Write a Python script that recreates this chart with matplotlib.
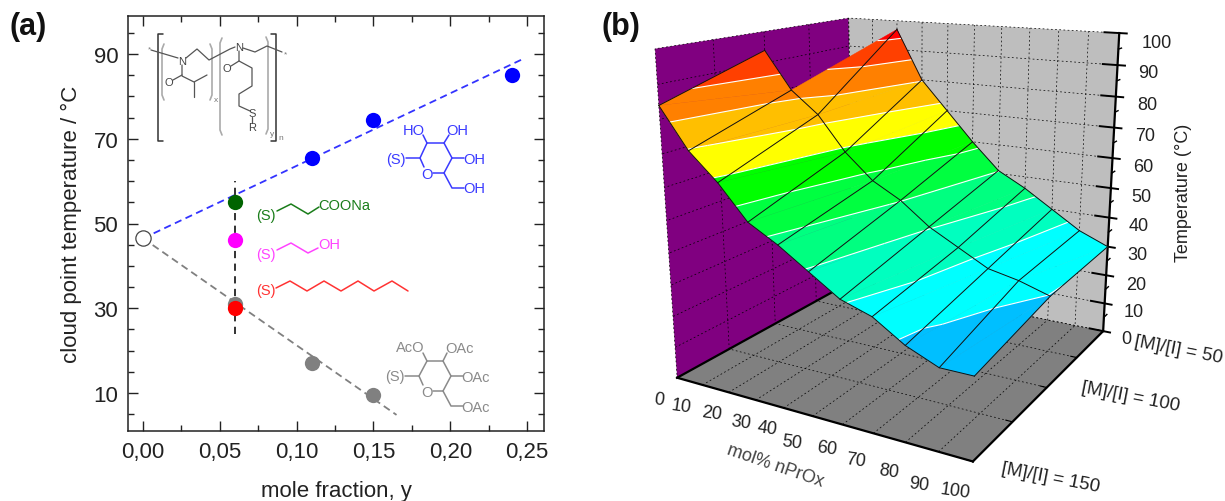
import numpy as np
import matplotlib
matplotlib.use('Agg')
import matplotlib.pyplot as plt
from mpl_toolkits.mplot3d.art3d import Poly3DCollection, Line3DCollection

plt.rcParams['font.family'] = ['Liberation Sans', 'DejaVu Sans']
plt.rcParams['grid.color'] = 'black'
plt.rcParams['grid.linewidth'] = 0.5
plt.rcParams['grid.linestyle'] = (0, (2.5, 3.5))

W, H = 1225, 502

# panel (a) data
x_open, y_open = [0.0], [46.5]
x_blue = [0.11, 0.15, 0.24]
y_blue = [65.5, 74.5, 85.0]
x_grey = [0.06, 0.11, 0.15]
y_grey = [31.0, 17.0, 9.5]
x_single = 0.06
y_green, y_magenta, y_red = 55.0, 46.0, 30.0
fit_blue_x, fit_blue_y = [0.0, 0.247], [46.5, 88.8]
fit_grey_x, fit_grey_y = [0.0, 0.165], [46.5, 4.8]
vline_y = [24.0, 60.0]

# panel (b) data: temperature vs mol% and [M]/[I]
mol = [0, 10, 20, 30, 40, 50, 60, 70, 80, 90, 100]
ratio = [50, 100, 150]
temp_50 = [np.nan, np.nan, 97, 80, 70, 60, 51, 46, 40, 34, 30]
temp_100 = [94, 82, 75, 64, 56, 51, 44, 39, 34, 32, 29]
temp_150 = [84, 72, 64, 54, 49, 43, 37, 34, 28, 24, 24]
levels = [22.0, 29.2, 36.4, 43.6, 50.8, 58.0, 65.2, 72.4, 79.6, 86.8, 94.0, 101.2]
band_colors = ['#00bfff', '#00ffff', '#00ffbf', '#00ff80', '#00ff40', '#00ff00',
               '#ffff00', '#ffbf00', '#ff8000', '#ff4000', '#ff0000']
mol_ticks = list(range(0, 101, 10))
ratio_ticks = [50, 75, 100, 125, 150]
ratio_names = ['[M]/[I] = 50', '[M]/[I] = 100', '[M]/[I] = 150']
temp_ticks = list(range(0, 101, 10))
temp_minor = list(range(5, 100, 10))

# where the tick labels of the 3d panel sit, in figure pixels
mol_label_pos = [(659, 400), (681, 407), (712, 414), (741, 423), (767, 429), (792, 443),
                 (827, 449), (856, 461), (889, 472), (919, 485), (955, 492)]
ratio_label_pos = [(1178, 350), (1131, 397), (1051, 478)]
temp_label_pos = [(1126, 340), (1134, 313), (1136, 286), (1137, 256), (1139, 227), (1141, 198),
                  (1143, 168), (1145, 137), (1147, 106), (1148, 74), (1157, 43)]

fig = plt.figure(figsize=(W / 100, H / 100), dpi=100)

# ---- panel (a)
ax = fig.add_axes([128 / W, (H - 432) / H, 416 / W, 415 / H])
ax.plot(fit_blue_x, fit_blue_y, color='#3333ff', ls=(0, (4, 2.5)), lw=1.3, zorder=1)
ax.plot(fit_grey_x, fit_grey_y, color='#808080', ls=(0, (4, 2.5)), lw=1.3, zorder=1)
ax.plot([x_single, x_single], vline_y, color='#222222', ls=(0, (4, 3)), lw=1.3, zorder=1)
ax.plot(x_open, y_open, 'o', ms=11, mfc='white', mec='#444444', mew=0.9, zorder=3)
ax.plot(x_blue, y_blue, 'o', ms=11, color='#0000ff', mew=0, zorder=3)
ax.plot(x_grey, y_grey, 'o', ms=11, color='#808080', mew=0, zorder=3)
ax.plot([x_single], [y_green], 'o', ms=11, color='#006400', mew=0, zorder=4)
ax.plot([x_single], [y_magenta], 'o', ms=11, color='#ff00ff', mew=0, zorder=4)
ax.plot([x_single], [y_red], 'o', ms=11, color='#ff0000', mew=0, zorder=4)
ax.set_xlim(-0.0098, 0.261)
ax.set_ylim(1.0, 99.0)
ax.set_xticks([0.0, 0.05, 0.10, 0.15, 0.20, 0.25])
ax.set_xticklabels(['0,00', '0,05', '0,10', '0,15', '0,20', '0,25'])
ax.set_xticks(np.arange(0.025, 0.26, 0.05), minor=True)
ax.set_yticks([10, 30, 50, 70, 90])
ax.set_yticks(np.arange(5, 99, 5), minor=True)
ax.tick_params(which='major', direction='in', length=7, width=1.0, top=True, right=True,
               labelsize=16, pad=7, color='#222222', labelcolor='#222222')
ax.tick_params(which='minor', direction='in', length=4, width=1.0, top=True, right=True, color='#222222')
for s in ax.spines.values():
    s.set_linewidth(1.1)
    s.set_color('#222222')
ax.set_xlabel('mole fraction, y', fontsize=16, labelpad=13, color='#222222')
ax.set_ylabel('cloud point temperature / °C', fontsize=16, labelpad=8, color='#222222')

# ---- panel (b)
S = 544.6
ax3 = fig.add_axes([620.95 / W, 17.83 / H, S / W, S / H], projection='3d')
ax3.patch.set_alpha(0)
ax3.computed_zorder = False
ax3.view_init(15.7211, -59.8241, 0.1783)
ax3.set_proj_type('persp', focal_length=0.3504)
ax3.set_box_aspect((1.0035, 0.9925, 1))

Z = np.array([temp_50, temp_100, temp_150], dtype=float)
polys, poly_cols, contour_segs = [], [], []


def clip_band(tri, lo, hi):
    # keep the part of a triangle between two temperatures
    out = tri
    for level, sign in ((lo, 1), (hi, -1)):
        res = []
        for i in range(len(out)):
            a, b = out[i], out[(i + 1) % len(out)]
            da, db = sign * (a[2] - level), sign * (b[2] - level)
            if da >= 0:
                res.append(a)
            if da * db < 0:
                t = da / (da - db)
                res.append(tuple(a[k] + t * (b[k] - a[k]) for k in range(3)))
        out = res
        if not out:
            break
    return out


for j in range(len(ratio) - 1):
    for i in range(len(mol) - 1):
        c00 = (mol[i], ratio[j], Z[j, i])
        c10 = (mol[i + 1], ratio[j], Z[j, i + 1])
        c01 = (mol[i], ratio[j + 1], Z[j + 1, i])
        c11 = (mol[i + 1], ratio[j + 1], Z[j + 1, i + 1])
        for tri in ([c01, c10, c11], [c00, c10, c01]):
            if any(np.isnan(p[2]) for p in tri):
                continue
            for k, col in enumerate(band_colors):
                part = clip_band(tri, levels[k], levels[k + 1])
                if len(part) >= 3:
                    polys.append(part)
                    poly_cols.append(col)
            for level in levels[1:-1]:
                pts = []
                for a, b in ((tri[0], tri[1]), (tri[1], tri[2]), (tri[2], tri[0])):
                    if (a[2] - level) * (b[2] - level) < 0:
                        t = (level - a[2]) / (b[2] - a[2])
                        pts.append(tuple(a[n] + t * (b[n] - a[n]) for n in range(3)))
                if len(pts) == 2:
                    contour_segs.append(pts)

ax3.add_collection3d(Poly3DCollection(polys, facecolors=poly_cols, edgecolors=poly_cols,
                                      linewidths=0.3, zorder=3))
ax3.add_collection3d(Line3DCollection(contour_segs, colors='white', linewidths=0.8, zorder=4))
for j, r in enumerate(ratio):
    ax3.plot(mol, [r] * len(mol), Z[j], color='#111111', lw=0.7, zorder=5)
for i, m in enumerate(mol):
    ax3.plot([m] * len(ratio), ratio, Z[:, i], color='#111111', lw=0.7, zorder=5)

ax3.set_xlim(0, 100, view_margin=0)
ax3.set_ylim(150, 50, view_margin=0)
ax3.set_zlim(0, 100, view_margin=0)
ax3.set_xticks(mol_ticks)
ax3.set_xticklabels([])
ax3.set_yticks(ratio_ticks)
ax3.set_yticklabels([])
ax3.set_zticks(temp_ticks)
ax3.set_zticklabels([])
ax3.xaxis.set_pane_color('#800080')
ax3.yaxis.set_pane_color('#bebebe')
ax3.zaxis.set_pane_color('#808080')
for a in (ax3.xaxis, ax3.yaxis, ax3.zaxis):
    a.pane.set_edgecolor('none')
    a.line.set_linewidth(1.6)
    a.line.set_color('black')
ax3.xaxis._axinfo['tick'].update(inward_factor=0.0, outward_factor=0.0)
ax3.yaxis._axinfo['tick'].update(inward_factor=0.0, outward_factor=0.25)
ax3.zaxis._axinfo['tick'].update(inward_factor=0.3, outward_factor=0.6,
                                 linewidth={True: 1.4, False: 1.0})
ax3.plot([0, 0], [50, 150], [0, 0], color='black', lw=1.6, zorder=2)
for z in temp_minor:
    ax3.plot([100, 100], [50, 47], [z, z], color='black', lw=1.0, zorder=2)

# ---- labels and chemical structures, in figure pixels
ov = fig.add_axes([0, 0, 1, 1], zorder=5)
ov.set_xlim(0, W)
ov.set_ylim(H, 0)
ov.axis('off')
ov.patch.set_alpha(0)

ov.text(28, 27, '(a)', fontsize=22, fontweight='bold', ha='center', va='center', color='#111111')
ov.text(621, 27, '(b)', fontsize=22, fontweight='bold', ha='center', va='center', color='#111111')
ov.text(1184, 193, 'Temperature (°C)', fontsize=13, rotation=90, ha='center', va='center', color='#222222')
ov.text(775, 466, 'mol% nPrOx', fontsize=13, rotation=-19, ha='center', va='center', color='#444444')
for v, (px, py) in zip(mol_ticks, mol_label_pos):
    ov.text(px, py, str(v), fontsize=13, rotation=-8, ha='center', va='center', color='#222222')
for s, (px, py) in zip(ratio_names, ratio_label_pos):
    ov.text(px, py, s, fontsize=13.5, rotation=-11, ha='center', va='center', color='#222222')
for v, (px, py) in zip(temp_ticks, temp_label_pos):
    ov.text(px, py, str(v), fontsize=13, ha='center', va='center', color='#222222')


def chain(path, color, lw=1.1):
    xs, ys = zip(*path)
    ov.plot(xs, ys, color=color, lw=lw, solid_capstyle='round')


def label(x, y, s, color, size=10.5):
    ov.text(x, y, s, color=color, fontsize=size, ha='center', va='center')


green = '#1a7d1a'
label(266, 216, '(S)', green)
chain([(277, 212), (291, 205), (308, 215), (319, 208)], green)
label(344, 206, 'COONa', green)

pink = '#ff44ff'
label(266, 255, '(S)', pink)
chain([(277, 251), (291, 244), (308, 254), (318, 249)], pink)
label(329, 245, 'OH', pink)

red = '#ff3333'
label(266, 291, '(S)', red)
chain([(276, 289), (290, 282), (307, 292), (324, 282), (341, 292), (358, 282), (374, 292), (392, 282), (408, 292)], red)

blue = '#3a3aff'
chain([(433, 174), (444, 174), (452, 159), (444, 144), (427, 144), (420, 159), (424, 168)], blue)
chain([(406, 159), (420, 159)], blue)
chain([(427, 144), (423, 136)], blue)
chain([(444, 144), (449, 136)], blue)
chain([(452, 159), (464, 159)], blue)
chain([(444, 174), (452, 189), (464, 189)], blue)
label(396, 160, '(S)', blue)
label(427, 175, 'O', blue)
label(414, 131, 'HO', blue)
label(457, 131, 'OH', blue)
label(474, 160, 'OH', blue)
label(474, 189, 'OH', blue)

gr = '#8a8a8a'
chain([(433, 392), (443, 392), (451, 377), (443, 362), (427, 362), (419, 377), (423, 386)], gr)
chain([(405, 377), (419, 377)], gr)
chain([(427, 362), (423, 354)], gr)
chain([(443, 362), (447, 354)], gr)
chain([(451, 377), (463, 377)], gr)
chain([(443, 392), (451, 407), (463, 407)], gr)
label(395, 377, '(S)', gr)
label(427, 393, 'O', gr)
label(410, 348, 'AcO', gr)
label(460, 349, 'OAc', gr)
label(476, 378, 'OAc', gr)
label(476, 408, 'OAc', gr)

ink = '#555555'
chain([(163, 35), (158, 35), (158, 142), (163, 142)], '#333333')
chain([(271, 35), (276, 35), (276, 142), (271, 142)], '#333333')
chain([(164, 45), (162, 50), (162, 96), (164, 101)], '#aaaaaa', 1.2)
chain([(210, 45), (212, 50), (212, 96), (210, 101)], '#aaaaaa', 1.2)
chain([(222, 39), (220, 44), (220, 131), (222, 136)], '#aaaaaa', 1.2)
chain([(266, 38), (268, 43), (268, 130), (266, 135)], '#aaaaaa', 1.2)
chain([(151, 51), (178, 59)], ink, 0.9)
chain([(186, 59), (197, 50), (209, 61), (230, 50), (235, 48)], ink, 0.9)
chain([(243, 49), (255, 53), (267, 47), (282, 53)], ink, 0.9)
chain([(182, 66), (182, 77), (194, 83), (207, 76)], ink, 0.9)
chain([(194, 83), (194, 98)], ink, 0.9)
chain([(182, 76), (173, 81)], ink, 0.9)
chain([(239, 52), (239, 62), (252, 69), (252, 87), (239, 95), (239, 107), (250, 112)], ink, 0.9)
chain([(239, 62), (231, 67)], ink, 0.9)
chain([(252, 118), (252, 124)], ink, 0.9)
for px, py, s in [(182, 62, 'N'), (239, 48, 'N'), (169, 83, 'O'), (227, 69, 'O'), (252, 114, 'S'), (252, 128, 'R')]:
    label(px, py, s, '#444444', 8)
for px, py, s in [(150, 50, '*'), (285, 55, '*'), (216, 100, 'x'), (272, 135, 'y'), (281, 139, 'n')]:
    label(px, py, s, '#777777', 6)

plt.savefig('out.png', dpi=100)
